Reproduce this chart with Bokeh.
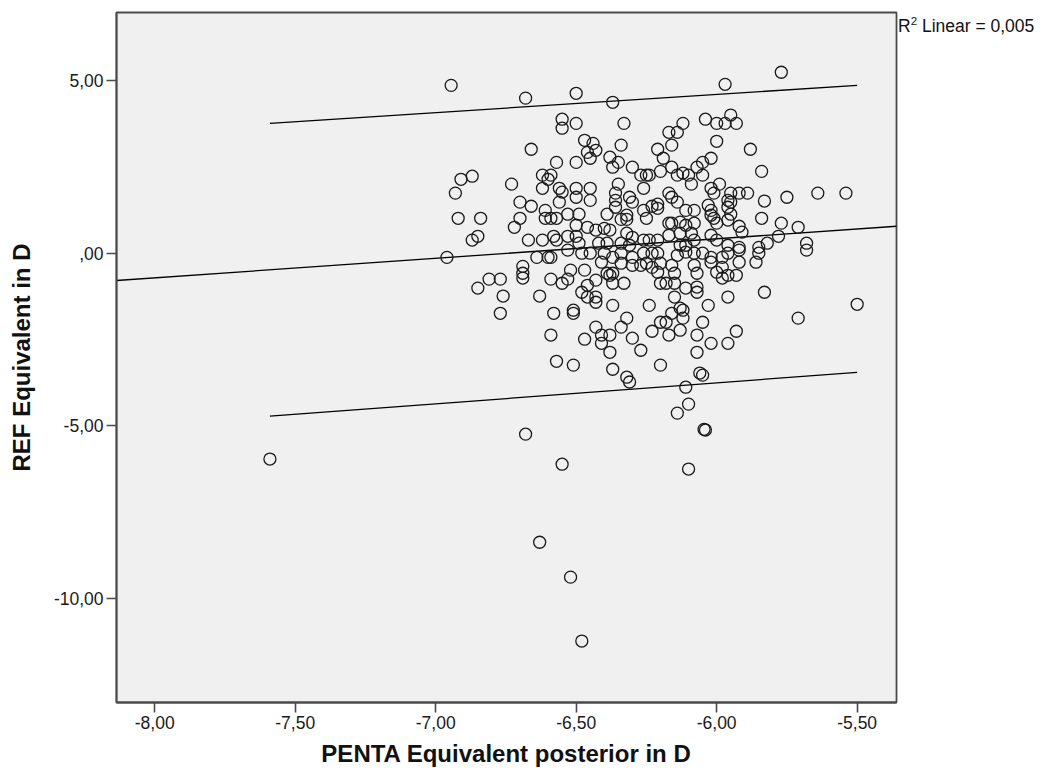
from bokeh.plotting import figure
from bokeh.models import Range1d, FixedTicker, ColumnDataSource, Div
from bokeh.layouts import row
from bokeh.embed import file_html
from bokeh.resources import INLINE

# ---- data ----
penta = [
    -7.59, -6.945, -6.96, -6.93, -6.91, -6.92, -6.87, -6.87, -6.85, -6.84,
    -6.85, -6.81, -6.77, -6.77, -6.76, -6.73, -6.72, -6.70, -6.70, -6.69,
    -6.69, -6.69, -6.68, -6.68, -6.66, -6.67, -6.66, -6.63, -6.64, -6.60,
    -6.59, -6.55, -6.63, -6.52, -6.48, -6.62, -6.59, -6.60, -6.62, -6.56,
    -6.55, -6.56, -6.50, -6.50, -6.61, -6.61, -6.59, -6.57, -6.53, -6.50,
    -6.62, -6.58, -6.57, -6.53, -6.50, -6.50, -6.55, -6.55, -6.50, -6.57,
    -6.50, -6.59, -6.55, -6.53, -6.52, -6.58, -6.51, -6.51, -6.59, -6.57,
    -6.51, -6.53,
    -5.97, -6.37, -6.33, -6.12, -6.17, -6.14, -6.04, -6.00, -5.97, -6.00,
    -6.34, -6.16, -6.21, -6.47, -6.44, -6.43, -6.46, -6.45, -6.19, -6.38,
    -6.35, -6.37, -6.30, -6.02, -6.05, -6.07, -6.20, -6.16, -6.14, -6.12,
    -6.10, -6.27, -6.25, -6.24, -6.05, -6.35, -6.26, -6.09, -5.99, -6.02,
    -6.01, -6.45, -6.36, -6.36, -6.36, -6.31, -6.30, -6.17, -6.16, -6.21,
    -6.23, -6.21, -6.14, -6.45, -6.26, -6.11, -6.08, -6.03, -6.02, -5.96,
    -5.96, -6.39, -6.49, -6.32, -6.34, -6.32, -6.25, -6.17, -6.16, -6.13,
    -6.11, -6.08, -6.02, -6.01, -6.00, -5.96, -6.46, -6.43, -6.40, -6.38,
    -6.32, -6.30, -6.26, -6.24, -6.21, -6.17, -6.13, -6.09, -6.08, -6.02,
    -6.00, -6.42, -6.39, -6.34, -6.31, -6.13, -6.11, -5.96, -6.49,
    -5.77, -5.95, -5.93, -5.88, -5.84, -5.95, -5.92, -5.89, -5.95, -5.83,
    -5.75, -5.64, -5.54, -5.95, -5.84, -5.77, -5.71, -5.92, -5.91, -5.78,
    -5.92, -5.85, -5.82, -5.68,
    -6.48, -6.45, -6.40, -6.37, -6.34, -6.30, -6.26, -6.23, -6.21, -6.14,
    -6.11, -6.08, -6.05, -6.02, -5.98, -5.96,
    -6.41, -6.34, -6.30, -6.27, -6.25, -6.23, -6.20, -6.16, -6.08, -6.02,
    -5.98,
    -6.47, -6.39, -6.38, -6.37, -6.21, -6.15, -6.07, -6.00, -5.96,
    -6.46, -6.43, -6.37, -6.33, -6.20, -6.18, -6.15, -6.11, -6.07, -6.07,
    -5.98, -6.48, -6.46, -6.43, -6.43, -6.37, -6.24, -6.15, -6.03, -5.96,
    -6.13, -6.12, -6.16, -6.12, -6.32, -6.34, -6.43, -6.41, -6.38, -6.41,
    -6.38, -6.20, -6.18, -6.23, -6.17, -6.13, -6.05, -6.07, -6.02, -5.96,
    -6.30, -6.27, -6.07, -6.47, -6.37, -6.20, -6.06, -6.05, -6.32, -6.31,
    -6.11, -6.10, -6.14, -6.04, -6.045, -6.10,
    -5.92, -5.85, -5.86, -5.92, -5.93, -5.68, -5.83, -5.71, -5.50, -5.93,
]
ref = [
    -5.96, 4.86, -0.12, 1.74, 2.14, 1.01, 2.23, 0.38, 0.49, 1.01,
    -1.01, -0.75, -0.75, -1.74, -1.24, 2.00, 0.75, 1.01, 1.48, -0.38,
    -0.58, -0.72, -5.24, 4.49, 3.01, 0.38, 1.36, -1.24, -0.12, -0.12,
    -0.12, -6.11, -8.37, -9.38, -11.23, 2.26, 2.26, 2.14, 1.88, 1.88,
    1.77, 1.48, 1.88, 1.62, 1.24, 1.01, 1.01, 1.01, 1.13, 0.81,
    0.38, 0.49, 0.38, 0.49, 0.49, 4.63, 3.88, 3.62, 3.76, 2.63,
    2.63, -0.75, -0.87, -0.75, -0.49, -1.74, -1.65, -1.74, -2.37, -3.13,
    -3.24, 0.09,
    4.89, 4.37, 3.76, 3.76, 3.50, 3.50, 3.88, 3.76, 3.76, 3.24,
    3.13, 3.13, 3.01, 3.27, 3.18, 2.98, 2.92, 2.75, 2.75, 2.78,
    2.63, 2.49, 2.49, 2.75, 2.63, 2.49, 2.37, 2.49, 2.26, 2.32,
    2.26, 2.26, 2.26, 2.26, 2.26, 2.00, 1.88, 2.00, 2.00, 1.88,
    1.74, 1.88, 1.74, 1.53, 1.33, 1.62, 1.48, 1.74, 1.62, 1.42,
    1.36, 1.30, 1.48, 1.53, 1.24, 1.24, 1.24, 1.39, 1.24, 1.53,
    1.33, 1.13, 1.13, 1.10, 0.98, 0.98, 1.01, 0.87, 0.87, 0.90,
    0.81, 0.87, 1.10, 1.01, 0.87, 0.96, 0.75, 0.67, 0.72, 0.67,
    0.58, 0.46, 0.38, 0.38, 0.38, 0.52, 0.58, 0.58, 0.38, 0.52,
    0.38, 0.29, 0.29, 0.29, 0.23, 0.23, 0.23, 0.23, 0.29,
    5.24, 4.00, 3.76, 3.01, 2.37, 1.74, 1.74, 1.74, 1.48, 1.51,
    1.62, 1.74, 1.74, 1.13, 1.01, 0.87, 0.75, 0.78, 0.61, 0.49,
    0.17, 0.17, 0.29, 0.29,
    0.00, 0.00, 0.00, -0.12, 0.00, -0.12, 0.00, 0.00, 0.00, -0.06,
    0.03, 0.00, 0.00, -0.12, -0.12, 0.00,
    -0.26, -0.29, -0.35, -0.35, -0.29, -0.41, -0.29, -0.35, -0.35, -0.26,
    -0.41,
    -0.49, -0.58, -0.64, -0.58, -0.55, -0.58, -0.58, -0.55, -0.64,
    -0.93, -0.78, -0.87, -0.87, -0.87, -0.87, -0.87, -1.01, -0.98, -1.13,
    -0.72, -1.13, -1.27, -1.27, -1.42, -1.51, -1.51, -1.27, -1.51, -1.27,
    -1.59, -1.65, -1.74, -1.88, -1.88, -2.14, -2.14, -2.37, -2.37, -2.61,
    -2.87, -2.00, -2.00, -2.26, -2.37, -2.23, -2.00, -2.37, -2.61, -2.61,
    -2.46, -2.81, -2.87, -2.49, -3.36, -3.24, -3.47, -3.53, -3.59, -3.73,
    -3.88, -4.37, -4.63, -5.12, -5.10, -6.25,
    0.09, 0.00, -0.26, -0.26, -0.64, 0.09, -1.13, -1.88, -1.48, -2.26,
]

# linear fit across the axis, and individual prediction interval over the data range
fit_x = [-8.136, -5.360]
fit_y = [-0.79, 0.78]
pi_x = [-7.59, -5.50]
pi_upper = [3.76, 4.86]
pi_lower = [-4.72, -3.45]

x_ticks = [-8.0, -7.5, -7.0, -6.5, -6.0, -5.5]
x_tick_labels = ["-8,00", "-7,50", "-7,00", "-6,50", "-6,00", "-5,50"]
y_ticks = [-10.0, -5.0, 0.0, 5.0]
y_tick_labels = ["-10,00", "-5,00", ",00", "5,00"]

r2_value = "0,005"

FONT = "Liberation Sans"
AX = "#4a4a4a"

p = figure(width=898, height=771, output_backend="svg", toolbar_location=None,
           title=None,
           x_range=Range1d(-8.136, -5.360), y_range=Range1d(-13.01, 6.97),
           min_border_left=116, min_border_right=2, min_border_top=12,
           min_border_bottom=69)
p.background_fill_color = "#f0f0f0"
p.border_fill_color = "white"
p.outline_line_color = AX
p.outline_line_width = 1.8
p.xgrid.visible = False
p.ygrid.visible = False

for ax, ticks, labels in ((p.xaxis, x_ticks, x_tick_labels), (p.yaxis, y_ticks, y_tick_labels)):
    ax.ticker = FixedTicker(ticks=ticks, minor_ticks=[])
    ax.major_label_overrides = dict(zip(ticks, labels))
    ax.axis_line_color = AX
    ax.axis_line_width = 1.8
    ax.major_tick_line_color = AX
    ax.major_tick_line_width = 1.6
    ax.major_tick_in = 0
    ax.major_tick_out = 10
    ax.minor_tick_line_color = None
    ax.major_label_text_font = FONT
    ax.major_label_text_font_size = "17.5px"
    ax.major_label_text_color = "#1a1a1a"
    ax.major_label_standoff = 3
    ax.axis_label_text_font = FONT
    ax.axis_label_text_font_size = "24px"
    ax.axis_label_text_font_style = "bold"
    ax.axis_label_text_color = "#111111"

p.xaxis.axis_label = "PENTA Equivalent posterior in D"
p.yaxis.axis_label = "REF Equivalent in D"
p.xaxis.axis_label_standoff = 8
p.yaxis.axis_label_standoff = 16

p.line(fit_x, fit_y, line_color="black", line_width=1.3)
p.line(pi_x, pi_upper, line_color="black", line_width=1.3)
p.line(pi_x, pi_lower, line_color="black", line_width=1.3)

src = ColumnDataSource(dict(x=penta, y=ref))
p.scatter("x", "y", source=src, marker="circle", size=12, fill_color=None,
          line_color="#1a1a1a", line_width=1.3)

r2 = Div(
    text='R<sup style="font-size:11.5px; line-height:0;">2</sup> Linear = ' + r2_value,
    width=142, height=40,
    styles={"font-family": FONT, "font-size": "17.5px", "color": "#111111",
            "line-height": "20px", "padding-top": "16px", "white-space": "nowrap",
            "margin": "0"},
)

layout = row(p, r2, spacing=0)
open("out.html", "w").write(file_html(layout, INLINE))
